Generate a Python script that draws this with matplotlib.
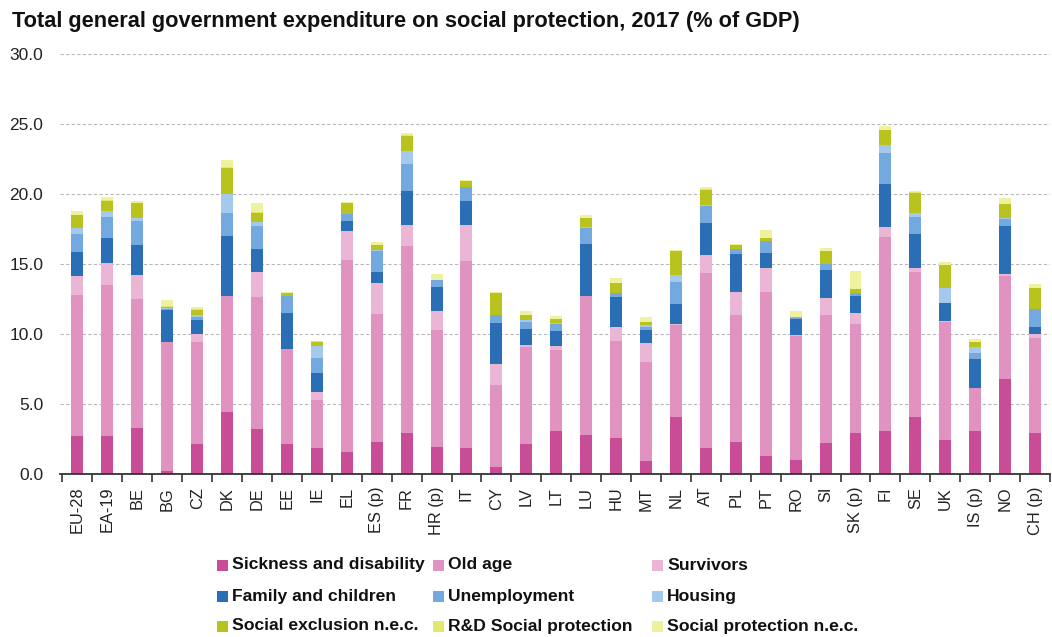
import matplotlib
matplotlib.use("Agg")
import matplotlib.pyplot as plt
from matplotlib.patches import Rectangle
import numpy as np

plt.rcParams['font.family'] = ['Liberation Sans', 'DejaVu Sans']

countries = ["EU-28", "EA-19", "BE", "BG", "CZ", "DK", "DE", "EE", "IE", "EL",
             "ES (p)", "FR", "HR (p)", "IT", "CY", "LV", "LT", "LU", "HU", "MT",
             "NL", "AT", "PL", "PT", "RO", "SI", "SK (p)", "FI", "SE", "UK",
             "IS (p)", "NO", "CH (p)"]

series_names = ["Sickness and disability", "Old age", "Survivors",
                "Family and children", "Unemployment", "Housing",
                "Social exclusion n.e.c.", "R&D Social protection",
                "Social protection n.e.c."]

sickness = [2.71, 2.71, 3.29, 0.24, 2.14, 4.45, 3.21, 2.14, 1.86, 1.57,
            2.33, 2.93, 1.95, 1.86, 0.52, 2.14, 3.10, 2.81, 2.62, 0.98,
            4.07, 1.86, 2.33, 1.28, 1.02, 2.26, 2.93, 3.10, 4.07, 2.43,
            3.10, 6.79, 2.93]
old_age = [10.10, 10.79, 9.26, 9.19, 7.31, 8.26, 9.43, 6.84, 3.45, 13.74,
           9.15, 13.36, 8.38, 13.38, 5.86, 6.93, 5.78, 9.90, 6.93, 7.04,
           6.62, 12.50, 9.05, 11.74, 8.88, 9.12, 7.78, 13.88, 10.38, 8.43,
           3.09, 7.40, 6.81]
survivors = [1.33, 1.62, 1.71, 0.00, 0.57, 0.00, 1.81, 0.00, 0.59, 2.09,
             2.21, 1.54, 1.34, 2.59, 1.52, 0.19, 0.26, 0.00, 0.95, 1.34,
             0.05, 1.33, 1.62, 1.74, 0.05, 1.24, 0.79, 0.66, 0.31, 0.09,
             0.00, 0.10, 0.28]
family = [1.76, 1.74, 2.12, 2.33, 0.98, 4.34, 1.65, 2.52, 1.36, 0.72,
          0.76, 2.41, 1.73, 1.67, 2.91, 1.14, 1.07, 3.77, 2.14, 0.97,
          1.45, 2.24, 2.71, 1.04, 1.15, 1.95, 1.26, 3.10, 2.41, 1.26,
          2.05, 3.47, 0.50]
unemployment = [1.24, 1.54, 1.74, 0.07, 0.26, 1.64, 1.64, 1.24, 1.05, 0.48,
                1.53, 1.93, 0.48, 1.02, 0.55, 0.50, 0.55, 1.09, 0.34, 0.22,
                1.55, 1.26, 0.36, 0.88, 0.03, 0.48, 0.17, 2.19, 1.23, 0.05,
                0.45, 0.48, 1.27]
housing = [0.48, 0.39, 0.19, 0.03, 0.12, 1.35, 0.28, 0.00, 0.88, 0.00,
           0.05, 0.95, 0.00, 0.02, 0.00, 0.10, 0.03, 0.10, 0.00, 0.12,
           0.48, 0.07, 0.00, 0.00, 0.00, 0.00, 0.00, 0.57, 0.27, 1.03,
           0.38, 0.07, 0.00]
social_exclusion = [0.90, 0.76, 1.07, 0.12, 0.38, 1.86, 0.67, 0.19, 0.29, 0.78,
                    0.35, 1.07, 0.02, 0.41, 1.57, 0.38, 0.31, 0.64, 0.69, 0.23,
                    1.71, 1.07, 0.29, 0.20, 0.13, 0.88, 0.28, 1.07, 1.45, 1.66,
                    0.36, 1.00, 1.52]
rd_social = [0.02, 0.02, 0.02, 0.02, 0.02, 0.03, 0.02, 0.01, 0.01, 0.01,
             0.02, 0.02, 0.01, 0.01, 0.00, 0.01, 0.01, 0.02, 0.01, 0.01,
             0.01, 0.02, 0.01, 0.02, 0.01, 0.01, 0.02, 0.02, 0.01, 0.01,
             0.01, 0.02, 0.01]
sp_nec = [0.27, 0.26, 0.15, 0.48, 0.17, 0.55, 0.65, 0.06, 0.06, 0.09,
          0.17, 0.15, 0.42, 0.06, 0.07, 0.25, 0.18, 0.17, 0.32, 0.33,
          0.11, 0.15, 0.11, 0.55, 0.40, 0.25, 1.32, 0.29, 0.11, 0.23,
          0.25, 0.41, 0.28]

series_values = [sickness, old_age, survivors, family, unemployment, housing,
                 social_exclusion, rd_social, sp_nec]
colors = ["#c94c96", "#e093c1", "#ebb6d6", "#2a6fb5", "#73a9df", "#a4c9ec",
          "#b9c31d", "#e2e86b", "#eef19d"]

yticks = [0, 5, 10, 15, 20, 25, 30]

W, H = 1052, 637
fig = plt.figure(figsize=(W / 100, H / 100), dpi=100)
ax = fig.add_axes([60 / W, 162.7 / H, 990 / W, 420 / H])

x = np.arange(len(countries))
bottom = np.zeros(len(countries))
for vals, col in zip(series_values, colors):
    ax.bar(x, vals, width=0.4, bottom=bottom, color=col, linewidth=0, zorder=3)
    bottom += np.array(vals)

ax.set_xlim(-0.583, 32.417)
ax.set_ylim(0, 30)
ax.set_yticks(yticks)
ax.set_yticklabels([f"{v:.1f}" for v in yticks], fontsize=12.5, color="#222222")
ax.tick_params(axis='y', length=0, pad=12)
ax.yaxis.grid(True, linestyle=(0, (3, 2)), color="#b8b8b8", linewidth=0.8, zorder=0)
ax.set_axisbelow(True)

ax.set_xticks(x)
ax.set_xticklabels(countries, rotation=90, fontsize=11.8, color="#222222", va='top')
ax.tick_params(axis='x', which='major', length=0, pad=9)
ax.set_xticks(np.arange(-0.5, len(countries) + 0.5, 1.0), minor=True)
ax.tick_params(axis='x', which='minor', length=6, width=1.2, color="#333333")

for s in ["top", "right", "left"]:
    ax.spines[s].set_visible(False)
ax.spines["bottom"].set_color("#333333")
ax.spines["bottom"].set_linewidth(1.3)
ax.spines["bottom"].set_zorder(4)

fig.text(12 / W, 1 - 21 / H, "Total general government expenditure on social protection, 2017 (% of GDP)",
         fontsize=15.7, fontweight='bold', color="#111111", ha='left', va='center')

# legend (row-wise, 3 columns)
marker_x = [217, 433, 652]
row_y = [565, 596, 626]
for i, (name, col) in enumerate(zip(series_names, colors)):
    r, c = divmod(i, 3)
    mx, my = marker_x[c], row_y[r]
    fig.add_artist(Rectangle((mx / W, 1 - (my + 5.5) / H), 11 / W, 11 / H,
                             transform=fig.transFigure, color=col, linewidth=0))
    fig.text((mx + 15) / W, 1 - my / H, name, fontsize=12.6, fontweight='bold',
             color="#111111", ha='left', va='center')

fig.savefig("out.png", dpi=100)
